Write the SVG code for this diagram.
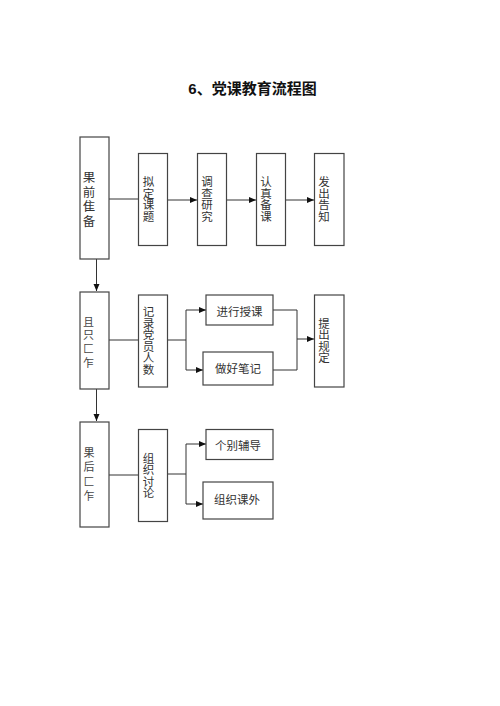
<svg xmlns="http://www.w3.org/2000/svg" width="500" height="706" viewBox="0 0 500 706">
<defs>
<marker id="arr" markerWidth="8" markerHeight="8" refX="7" refY="4" orient="auto" markerUnits="userSpaceOnUse">
<path d="M0,1 L7,4 L0,7 Z" fill="#111"/>
</marker>
<style>
.box{fill:#fff;stroke:#444;stroke-width:1.2}
.ln{fill:none;stroke:#333;stroke-width:1}
.t{font-family:"Noto Sans CJK SC","Noto Sans",sans-serif;font-size:11.5px;fill:#333}
.v{writing-mode:vertical-rl;text-orientation:upright}
.tb{font-family:"Noto Sans CJK SC","Noto Sans",sans-serif;font-size:11px;fill:#444}
.title{font-family:"Liberation Sans","Noto Sans CJK SC",sans-serif;font-size:15px;font-weight:bold;fill:#111}
</style>
</defs>
<rect width="500" height="706" fill="#fff"/>
<text class="title" x="252.5" y="93.5" text-anchor="middle">6、党课教育流程图</text>

<g id="connectors">
<line class="ln" x1="109" y1="199" x2="138" y2="199"/>
<line class="ln" x1="168" y1="200" x2="197" y2="200" marker-end="url(#arr)"/>
<line class="ln" x1="227" y1="200" x2="256" y2="200" marker-end="url(#arr)"/>
<line class="ln" x1="286" y1="200" x2="314" y2="200" marker-end="url(#arr)"/>
<line class="ln" x1="96.5" y1="259" x2="96.5" y2="291" marker-end="url(#arr)"/>
<line class="ln" x1="109" y1="340" x2="138" y2="340"/>
<path class="ln" d="M168,340 H186"/>
<path class="ln" d="M186,310 V370"/>
<line class="ln" x1="186" y1="310" x2="206" y2="310" marker-end="url(#arr)"/>
<line class="ln" x1="186" y1="370" x2="203" y2="370" marker-end="url(#arr)"/>
<path class="ln" d="M273,310 H297 V370 H273"/>
<line class="ln" x1="297" y1="339" x2="314" y2="339" marker-end="url(#arr)"/>
<line class="ln" x1="96.5" y1="389" x2="96.5" y2="421" marker-end="url(#arr)"/>
<line class="ln" x1="109" y1="475" x2="138" y2="475"/>
<path class="ln" d="M168,474 H186"/>
<path class="ln" d="M186,444 V504"/>
<line class="ln" x1="186" y1="444" x2="206" y2="444" marker-end="url(#arr)"/>
<line class="ln" x1="186" y1="504" x2="203" y2="504" marker-end="url(#arr)"/>
</g>

<g id="n1">
<rect class="box" x="80" y="137" width="29" height="122"/>
<text class="t v" style="font-size:12.5px;letter-spacing:2px" x="89" y="171">果前隹备</text>
</g>
<g id="n2">
<rect class="box" x="138.5" y="153.5" width="29" height="92"/>
<text class="t v" x="148.5" y="176">拟定课题</text>
</g>
<g id="n3">
<rect class="box" x="197.5" y="153.5" width="29" height="92"/>
<text class="t v" x="207" y="176">调查研究</text>
</g>
<g id="n4">
<rect class="box" x="256.5" y="153.5" width="29" height="92"/>
<text class="t v" x="266" y="176">认真备课</text>
</g>
<g id="n5">
<rect class="box" x="314.5" y="153.5" width="29.5" height="92"/>
<text class="t v" x="324" y="176">发出告知</text>
</g>

<g id="n6">
<rect class="box" x="80" y="292" width="29" height="97"/>
<text class="tb v" style="letter-spacing:2.8px" x="88.5" y="316">且只匚乍</text>
</g>
<g id="n7">
<rect class="box" x="138.5" y="295" width="29" height="92"/>
<text class="t v" x="148.5" y="306">记录党员人数</text>
</g>
<g id="n8">
<rect class="box" x="206" y="295" width="67" height="30"/>
<text class="t" x="239.5" y="316.2" text-anchor="middle">进行授课</text>
</g>
<g id="n9">
<rect class="box" x="203" y="352" width="70" height="33"/>
<text class="t" x="238" y="372.8" text-anchor="middle">做好笔记</text>
</g>
<g id="n10">
<rect class="box" x="314.5" y="295" width="29.5" height="92"/>
<text class="t v" x="324" y="317.5">提出规定</text>
</g>

<g id="n11">
<rect class="box" x="80" y="422" width="29" height="105"/>
<text class="tb v" style="letter-spacing:3.6px" x="89" y="447">果后匚乍</text>
</g>
<g id="n12">
<rect class="box" x="138.5" y="429.5" width="29" height="92"/>
<text class="t v" x="148.5" y="452.5">组织讨论</text>
</g>
<g id="n13">
<rect class="box" x="206" y="429.5" width="67" height="30"/>
<text class="t" x="238" y="449.8" text-anchor="middle">个别辅导</text>
</g>
<g id="n14">
<rect class="box" x="203" y="482" width="70" height="37"/>
<text class="t" x="237" y="503.5" text-anchor="middle">组织课外</text>
</g>
</svg>
